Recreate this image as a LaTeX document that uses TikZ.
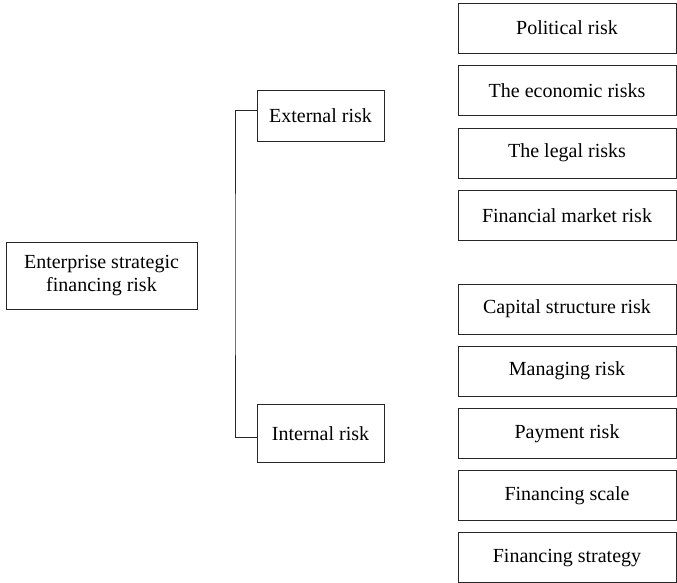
\documentclass[tikz,border=0pt]{standalone}
\usepackage{fontspec}
\setmainfont{Liberation Serif}
\usepackage{tikz}
\usetikzlibrary{shapes,positioning}

\begin{document}
\begin{tikzpicture}[x=1pt, y=-1pt, every node/.style={font=\fontsize{20}{23}\selectfont},
  box/.style={draw=black!85, line width=0.8pt, rectangle, align=center, inner sep=2pt},
  riskbox/.style={box, minimum width=218pt, minimum height=50pt}]
  \useasboundingbox (0,0) rectangle (677,582);
  \node[box, minimum width=191pt, minimum height=67pt] (esf) at (101.5,275.5) {Enterprise strategic\\ financing risk};
  \node[box, minimum width=127pt, minimum height=51pt] (ext) at (320.5,116) {External risk};
  \node[box, minimum width=127pt, minimum height=58pt] (int) at (320.5,433.5) {Internal risk};
  % external
  \node[riskbox] (pol) at (567,28) {Political risk};
  \node[riskbox] (eco) at (567,90.5) {The economic risks};
  \node[riskbox] (leg) at (567,153) {The legal risks};
  \node[riskbox] (fin) at (567,215.5) {Financial market risk};
  % internal
  \node[riskbox] (cap) at (567,309) {Capital structure risk};
  \node[riskbox] (man) at (567,371.2) {Managing risk};
  \node[riskbox] (pay) at (567,433.4) {Payment risk};
  \node[riskbox] (scl) at (567,495.6) {Financing scale};
  \node[riskbox] (str) at (567,557.8) {Financing strategy};
  \coordinate (bend) at (235,275);
  \draw[-, draw=black!85, line width=0.8pt] ([yshift=6pt]ext.west) -| (bend) |- ([yshift=-3.5pt]int.west);
\end{tikzpicture}
\end{document}
